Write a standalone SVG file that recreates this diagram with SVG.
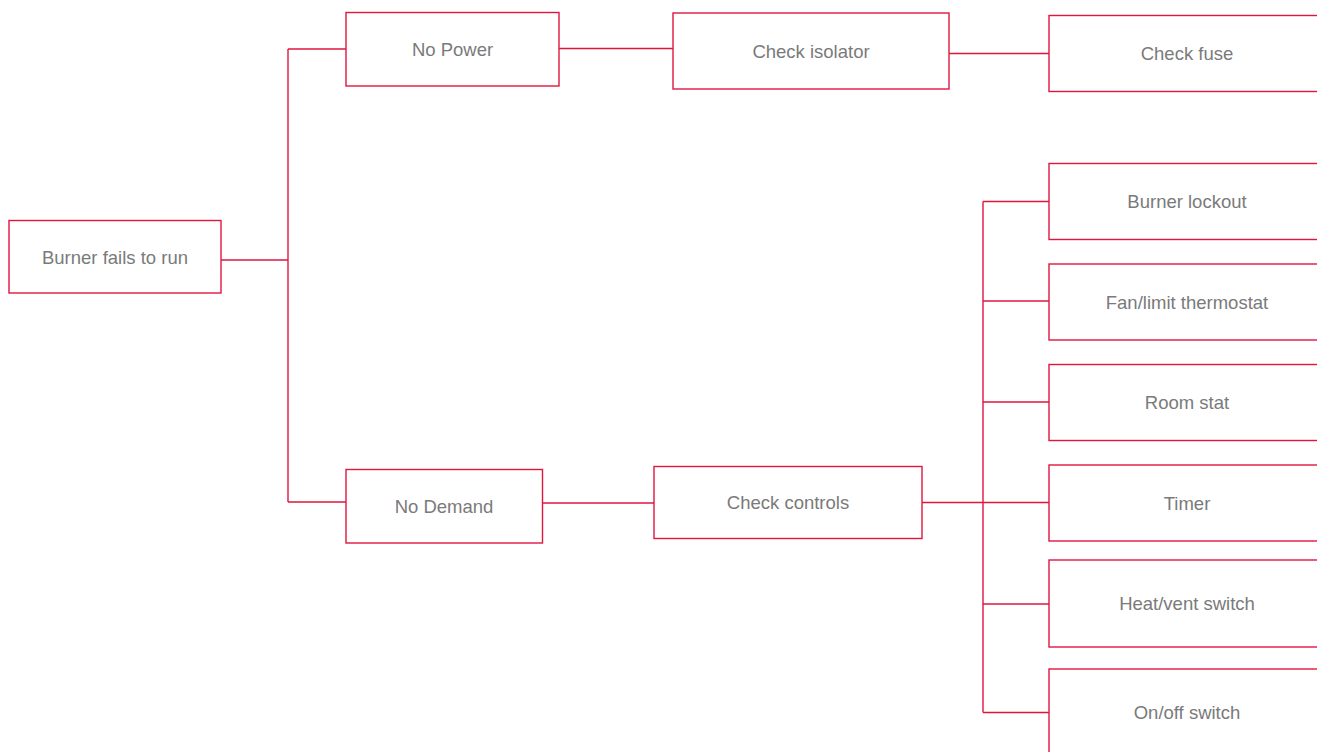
<svg xmlns="http://www.w3.org/2000/svg" width="1317" height="752" viewBox="0 0 1317 752">
<style>
.box{fill:#ffffff;stroke:#e0163f;stroke-width:1.4}
.lbl{font-family:"Liberation Sans",Arial,sans-serif;font-size:18.5px;fill:#7a7a7a;text-anchor:middle}
.con{fill:none;stroke:#e0163f;stroke-width:1.4}
</style>
<rect width="1317" height="752" fill="#ffffff"/>
<g id="connectors">
<path class="con" d="M221,260 H288 M288,49 V502 M288,49 H346 M288,502 H346"/>
<path class="con" d="M559,48.5 H673"/>
<path class="con" d="M949,53.5 H1049"/>
<path class="con" d="M542.5,503 H654"/>
<path class="con" d="M922,502.5 H1049 M983,201.5 V712.5 M983,201.5 H1049 M983,301 H1049 M983,402 H1049 M983,604 H1049 M983,712.5 H1049"/>
</g>
<g id="burner-fails"><rect class="box" x="9" y="220.5" width="212" height="72.5"/><text class="lbl" x="115" y="263.5">Burner fails to run</text></g>
<g id="no-power"><rect class="box" x="346" y="12.5" width="213" height="73.5"/><text class="lbl" x="452.5" y="55.8">No Power</text></g>
<g id="check-isolator"><rect class="box" x="673" y="13" width="276" height="76"/><text class="lbl" x="811" y="57.5">Check isolator</text></g>
<g id="check-fuse"><rect class="box" x="1049" y="15.5" width="276" height="76"/><text class="lbl" x="1187" y="60">Check fuse</text></g>
<g id="no-demand"><rect class="box" x="346" y="469.5" width="196.5" height="73.5"/><text class="lbl" x="444" y="512.8">No Demand</text></g>
<g id="check-controls"><rect class="box" x="654" y="466.5" width="268" height="72"/><text class="lbl" x="788" y="509">Check controls</text></g>
<g id="burner-lockout"><rect class="box" x="1049" y="163.5" width="276" height="76"/><text class="lbl" x="1187" y="208">Burner lockout</text></g>
<g id="fan-limit"><rect class="box" x="1049" y="264" width="276" height="76"/><text class="lbl" x="1187" y="308.5">Fan/limit thermostat</text></g>
<g id="room-stat"><rect class="box" x="1049" y="364.5" width="276" height="76"/><text class="lbl" x="1187" y="409">Room stat</text></g>
<g id="timer"><rect class="box" x="1049" y="465" width="276" height="76"/><text class="lbl" x="1187" y="509.5">Timer</text></g>
<g id="heat-vent"><rect class="box" x="1049" y="560" width="276" height="87"/><text class="lbl" x="1187" y="610">Heat/vent switch</text></g>
<g id="on-off"><rect class="box" x="1049" y="669" width="276" height="100"/><text class="lbl" x="1187" y="719">On/off switch</text></g>
</svg>
